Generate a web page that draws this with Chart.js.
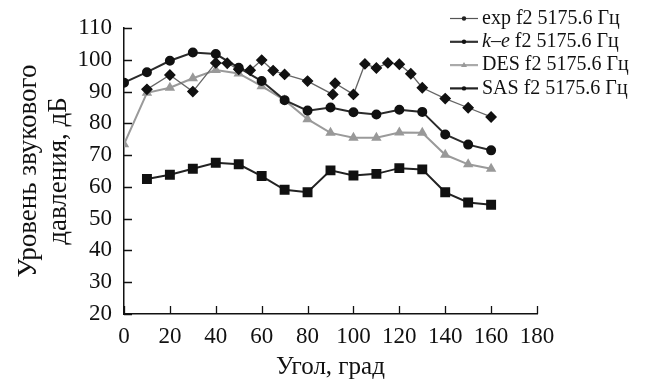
<!DOCTYPE html>
<html>
<head>
<meta charset="utf-8">
<script src="https://cdn.jsdelivr.net/npm/chart.js@4.4.1/dist/chart.umd.min.js"></script>
<style>
  html, body { margin: 0; padding: 0; background: #fff; }
  #wrap { width: 649px; height: 383px; position: relative; }
</style>
</head>
<body>
<div id="wrap"><canvas id="chart"></canvas></div>
<script>
// эксперимент (нерегулярные углы)
const expAngles = [10, 20, 30, 40, 45, 50, 55, 60, 65, 70, 80, 91, 92, 100, 105, 110, 115, 120, 125, 130, 140, 150, 160];
const expLevels = [90.7, 95.2, 90, 99, 98.9, 97, 96.7, 99.9, 96.6, 95.4, 93.3, 89.1, 92.6, 89.1, 98.7, 97.4, 99, 98.6, 95.6, 91.2, 87.8, 84.9, 82];

const calcAngles = [0, 10, 20, 30, 40, 50, 60, 70, 80, 90, 100, 110, 120, 130, 140, 150, 160];
const keLevels  = [92.8, 96.1, 99.7, 102.3, 101.8, 97.5, 93.3, 87.3, 84, 85, 83.5, 82.8, 84.3, 83.6, 76.5, 73.3, 71.5];
const desLevels = [73.4, 89.6, 91.2, 94.2, 96.8, 95.7, 91.7, 87.3, 81.3, 77, 75.5, 75.5, 77.1, 77, 70.1, 67.1, 65.7];

const sasAngles = [10, 20, 30, 40, 50, 60, 70, 80, 90, 100, 110, 120, 130, 140, 150, 160];
const sasLevels = [62.5, 63.8, 65.7, 67.6, 67.1, 63.4, 59.1, 58.3, 65.2, 63.6, 64.1, 65.9, 65.5, 58.3, 55.1, 54.4];

const xTicks = [0, 20, 40, 60, 80, 100, 120, 140, 160, 180];
const yTicks = [20, 30, 40, 50, 60, 70, 80, 90, 100, 110];

const serif = '"Liberation Serif", "DejaVu Serif", serif';
const pts = (xs, ys) => xs.map((x, i) => ({ x: x, y: ys[i] }));

// засечки внутрь области графика
const innerTicks = {
    id: 'innerTicks',
    afterDraw(chart) {
        const { ctx, chartArea, scales } = chart;
        ctx.save();
        ctx.strokeStyle = '#111';
        ctx.lineWidth = 1.3;
        ctx.beginPath();
        yTicks.forEach(v => {
            const y = Math.round(scales.y.getPixelForValue(v)) + 0.5;
            ctx.moveTo(chartArea.left, y);
            ctx.lineTo(chartArea.left + 8, y);
        });
        xTicks.forEach(v => {
            const x = Math.round(scales.x.getPixelForValue(v)) + 0.5;
            ctx.moveTo(x, chartArea.bottom);
            ctx.lineTo(x, chartArea.bottom - 8);
        });
        ctx.stroke();
        ctx.restore();
    }
};

// легенда справа сверху
const sideLegend = {
    id: 'sideLegend',
    afterDraw(chart) {
        const ctx = chart.ctx;
        const rows = [
            { pre: 'exp', italic: false, color: '#555', w: 1.2, marker: 'dot', mc: '#222' },
            { pre: 'k\u2013e', italic: true, color: '#333', w: 2.2, marker: 'dot', mc: '#111' },
            { pre: 'DES', italic: false, color: '#aaa', w: 2.2, marker: 'tri', mc: '#999' },
            { pre: 'SAS', italic: false, color: '#222', w: 2.2, marker: 'dot', mc: '#111' }
        ];
        ctx.save();
        rows.forEach((r, i) => {
            const y = 18.5 + i * 23.3;
            ctx.strokeStyle = r.color;
            ctx.lineWidth = r.w;
            ctx.beginPath();
            ctx.moveTo(450, y);
            ctx.lineTo(478, y);
            ctx.stroke();
            ctx.fillStyle = r.mc;
            ctx.beginPath();
            if (r.marker === 'tri') {
                ctx.moveTo(464, y - 3);
                ctx.lineTo(467, y + 2);
                ctx.lineTo(461, y + 2);
                ctx.closePath();
            } else {
                ctx.arc(464, y, 2.2, 0, Math.PI * 2);
            }
            ctx.fill();
            ctx.fillStyle = '#111';
            ctx.textBaseline = 'middle';
            ctx.font = (r.italic ? 'italic ' : '') + '20px ' + serif;
            ctx.fillText(r.pre, 482, y);
            const w = ctx.measureText(r.pre).width;
            ctx.font = '20px ' + serif;
            ctx.fillText(' f2 5175.6 Гц', 482 + w, y);
        });
        ctx.restore();
    }
};

new Chart(document.getElementById('chart'), {
    type: 'line',
    data: {
        datasets: [
            {
                label: 'exp f2 5175.6 Гц',
                data: pts(expAngles, expLevels),
                borderColor: '#666',
                borderWidth: 1.3,
                pointStyle: 'rectRot',
                pointRadius: 5,
                pointBackgroundColor: '#111',
                pointBorderColor: '#111',
                tension: 0
            },
            {
                label: 'k-e f2 5175.6 Гц',
                data: pts(calcAngles, keLevels),
                borderColor: '#2a2a2a',
                borderWidth: 2,
                pointStyle: 'circle',
                pointRadius: 4,
                pointBackgroundColor: '#111',
                pointBorderColor: '#111',
                tension: 0
            },
            {
                label: 'DES f2 5175.6 Гц',
                data: pts(calcAngles, desLevels),
                borderColor: '#9a9a9a',
                borderWidth: 2,
                pointStyle: 'triangle',
                pointRadius: 4,
                pointBackgroundColor: '#999',
                pointBorderColor: '#999',
                tension: 0
            },
            {
                label: 'SAS f2 5175.6 Гц',
                data: pts(sasAngles, sasLevels),
                borderColor: '#222',
                borderWidth: 2,
                pointStyle: 'rect',
                pointRadius: 5.6,
                pointBackgroundColor: '#111',
                pointBorderColor: '#111',
                tension: 0
            }
        ]
    },
    options: {
        responsive: true,
        maintainAspectRatio: false,
        animation: false,
        layout: { padding: { top: 28, right: 112, left: 0, bottom: 0 } },
        plugins: { legend: { display: false }, tooltip: { enabled: false } },
        scales: {
            x: {
                type: 'linear',
                min: 0, max: 180,
                afterBuildTicks: s => { s.ticks = xTicks.map(v => ({ value: v })); },
                afterFit: s => { s.height = 69; },
                grid: { display: false, drawTicks: false },
                border: { display: true, color: '#111', width: 1.5 },
                ticks: { color: '#111', font: { family: serif, size: 23 }, padding: 9, maxRotation: 0 },
                title: { display: true, text: 'Угол, град', color: '#111', font: { family: serif, size: 25, lineHeight: 1.2 }, padding: { top: 0, bottom: 1 } }
            },
            y: {
                min: 20, max: 110,
                afterBuildTicks: s => { s.ticks = yTicks.map(v => ({ value: v })); },
                afterFit: s => { s.width = 124; },
                grid: { display: false, drawTicks: false },
                border: { display: true, color: '#111', width: 1.5 },
                ticks: { color: '#111', font: { family: serif, size: 23 }, padding: 12 },
                title: {
                    display: true,
                    text: ['Уровень звукового', 'давления, дБ'],
                    color: '#111',
                    font: { family: serif, size: 27, lineHeight: 30 / 27 },
                    padding: { top: 14, bottom: 0 }
                }
            }
        }
    },
    plugins: [innerTicks, sideLegend]
});
</script>
</body>
</html>
